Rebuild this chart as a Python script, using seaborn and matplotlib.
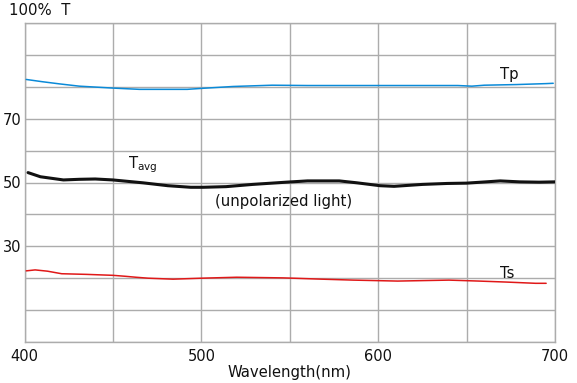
"""
transmission of a polarizing coating: Tp, Ts and average
"""

import pandas as pd
import seaborn as sns
import matplotlib.pyplot as plt

# values
tp_nm = [401, 410, 420, 431, 450, 465, 480, 492, 500, 518, 540, 560, 600, 645, 653, 660, 678, 695, 699]
tp_val = [82.3, 81.6, 80.9, 80.2, 79.6, 79.2, 79.2, 79.2, 79.5, 80.1, 80.5, 80.4, 80.4, 80.4, 80.2, 80.5, 80.7, 81.0, 81.1]

tavg_nm = [402, 409, 422, 431, 440, 450, 467, 481, 494, 501, 514, 529, 548, 560, 578, 588, 601, 609, 625, 639, 650, 661, 669, 680, 691, 700]
tavg_val = [53.1, 51.8, 50.8, 51.0, 51.1, 50.8, 49.9, 49.0, 48.5, 48.5, 48.7, 49.4, 50.1, 50.5, 50.5, 49.9, 49.0, 48.8, 49.4, 49.7, 49.8, 50.2, 50.5, 50.2, 50.1, 50.2]

ts_nm = [401, 406, 413, 417, 421, 435, 450, 457, 463, 470, 484, 500, 520, 546, 552, 568, 586, 611, 640, 657, 672, 689, 695]
ts_val = [22.3, 22.6, 22.2, 21.8, 21.4, 21.2, 20.9, 20.6, 20.3, 20.0, 19.7, 20.0, 20.3, 20.1, 20.0, 19.7, 19.4, 19.1, 19.4, 19.1, 18.8, 18.4, 18.4]

x_ticks = [400, 450, 500, 550, 600, 650, 700]
x_labels = ["400", "", "500", "", "600", "", "700"]
y_ticks = [0, 10, 20, 30, 40, 50, 60, 70, 80, 90, 100]
y_labels = ["", "", "", "30", "", "50", "", "70", "", "", ""]

df = pd.concat([
    pd.DataFrame({"nm": tp_nm, "T": tp_val, "curve": "Tp"}),
    pd.DataFrame({"nm": tavg_nm, "T": tavg_val, "curve": "Tavg"}),
    pd.DataFrame({"nm": ts_nm, "T": ts_val, "curve": "Ts"}),
])

sns.set_style("white")
plt.rcParams["font.family"] = ["DejaVu Sans"]

fig = plt.figure(figsize=(5.77, 3.83), dpi=100)
ax = fig.add_axes([24.5 / 577, 41 / 383, 530.5 / 577, 319 / 383])

sns.lineplot(
    data=df, x="nm", y="T", hue="curve", size="curve",
    palette={"Tp": "#0a8ad8", "Tavg": "#111111", "Ts": "#e01818"},
    sizes={"Tp": 1.1, "Tavg": 2.2, "Ts": 1.1},
    legend=False, ax=ax, zorder=3,
)

ax.set_xlim(400, 700)
ax.set_ylim(0, 100)
ax.set_xticks(x_ticks)
ax.set_xticklabels(x_labels)
ax.set_yticks(y_ticks)
ax.set_yticklabels(y_labels)
ax.grid(True, color="#acacac", linewidth=1.0)
ax.tick_params(length=0, labelsize=10.5, colors="#111111", pad=5)
ax.tick_params(axis="y", pad=2)
for s in ax.spines.values():
    s.set_color("#acacac")
    s.set_linewidth(1.0)
ax.set_xlabel("Wavelength(nm)", fontsize=10.7, labelpad=1, color="#111111")
ax.set_ylabel("")

ax.text(-0.03, 1.015, "100%  T", transform=ax.transAxes, fontsize=10.7,
        ha="left", va="bottom", color="#111111")
ax.text(674, 83.7, "Tp", fontsize=10.7, ha="center", va="center", color="#111111")
ax.text(673, 21.6, "Ts", fontsize=10.7, ha="center", va="center", color="#111111")
ax.text(467, 55.5, r"T$_{\mathregular{avg}}$", fontsize=10.7, ha="center", va="center", color="#111111")
ax.text(508, 44.0, "(unpolarized light)", fontsize=10.7, ha="left", va="center", color="#111111")

fig.savefig("out.png", dpi=100)
